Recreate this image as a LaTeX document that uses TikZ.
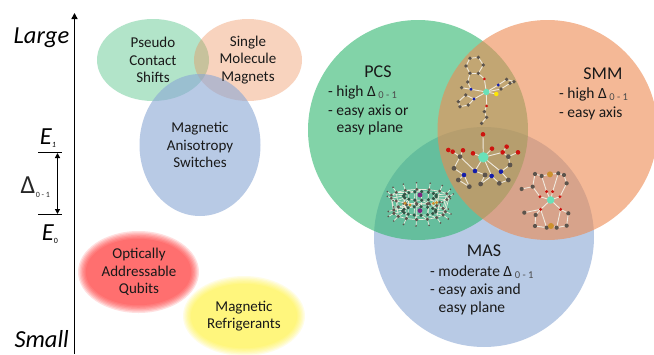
\documentclass[tikz,border=0pt]{standalone}
\usepackage{fontspec}
\setmainfont{Carlito}
\usetikzlibrary{arrows.meta}
\definecolor{gbig}{RGB}{47,182,110}
\definecolor{obig}{RGB}{237,137,80}
\definecolor{bbig}{RGB}{138,167,213}
\definecolor{bond}{RGB}{240,234,222}
\definecolor{atomc}{RGB}{92,84,76}
\definecolor{ored}{RGB}{205,20,15}
\definecolor{nblue}{RGB}{20,30,170}
\definecolor{dycol}{RGB}{105,225,185}
\definecolor{aucol}{RGB}{205,145,45}
\definecolor{cagec}{RGB}{50,85,70}
\newcommand{\dlt}{Δ\,\raisebox{-2.5pt}{\fontsize{10.5}{10.5}\selectfont\color{black!70} 0 - 1}}
\newcommand{\bonds}[1]{\foreach \p/\q in {#1} \draw[bondline] (\p) -- (\q);}
\newcommand{\atoms}[3]{\foreach \u/\v in {#3} \fill[#1] (\u,\v) circle (#2pt);}
\tikzset{
 lbl/.style={font=\fontsize{15}{17.3}\selectfont,align=center,text=black!90,inner sep=0},
 big/.style={font=\fontsize{15.5}{18}\selectfont,text=black!90,inner sep=0},
 head/.style={font=\fontsize{18}{18}\selectfont,text=black!90,inner sep=0},
 itl/.style={font=\fontsize{24.5}{26}\selectfont\itshape,text=black,inner sep=0},
 bondline/.style={draw=bond,line width=.9pt},
 axisl/.style={line width=1.7pt,black}
}
\begin{document}
\begin{tikzpicture}[x=1pt,y=-1pt]
\useasboundingbox (0,0) rectangle (654,354);
\fill[white] (0,0) rectangle (654,354);
% axis
\coordinate (axb) at (74.5,354); \coordinate (axt) at (74.5,13);
\draw[axisl,-{Triangle[length=6pt,width=6pt]}] (axb) -- (axt);
\node[itl,anchor=east] (large) at (69.5,38) {Large};
\node[itl,anchor=east] (small) at (69,339) {Small};
% levels
\coordinate (e1a) at (38,152.5); \coordinate (e1b) at (62,152.5);
\coordinate (e0a) at (38,214.5); \coordinate (e0b) at (62,214.5);
\draw[line width=1.3pt] (e1a) -- (e1b); \draw[line width=1.3pt] (e0a) -- (e0b);
\draw[line width=1.3pt,{Triangle[length=5pt,width=5pt]}-{Triangle[length=5pt,width=5pt]}] (57.5,153) -- (57.5,214);
\node[itl] (eone) at (48,138) {E\raisebox{-3pt}{\fontsize{8}{8}\selectfont 1}};
\node[itl] (ezero) at (50,234) {E\raisebox{-3pt}{\fontsize{8}{8}\selectfont\upshape 0}};
\node[inner sep=0,font=\fontsize{26}{26}\selectfont,text=black!85,anchor=west] (dl) at (20.5,187) {Δ\raisebox{-4pt}{\fontsize{8}{8}\selectfont\hspace{.5pt}0 - 1}};
% left ellipses
\fill[gbig,opacity=.37] (153,60) ellipse [x radius=56pt,y radius=41pt];
\fill[obig,opacity=.37] (248,60) ellipse [x radius=54pt,y radius=41pt];
\fill[bbig,opacity=.6] (200,145) ellipse [x radius=60.5pt,y radius=71pt];
\foreach \d in {0,1,2,3,4,5,6}{
  \fill[red!85!white,opacity=.14] (138.5,272) ellipse [x radius={60.5pt-\d*1.3pt},y radius={41pt-\d*1.3pt}];
  \fill[yellow!95!white,opacity=.1] (244,316) ellipse [x radius={61pt-\d*1.3pt},y radius={40pt-\d*1.3pt}];
}
\node[lbl] (t1) at (153,60) {Pseudo\\Contact\\Shifts};
\node[lbl] (t2) at (248,60) {Single\\Molecule\\Magnets};
\node[lbl] (t3) at (200,145) {Magnetic\\Anisotropy\\Switches};
\node[lbl] (t4) at (139,272) {Optically\\Addressable\\Qubits};
\node[lbl] (t5) at (244,316) {Magnetic\\Refrigerants};
% big circles
\fill[bbig,opacity=.6] (484,237) circle (110pt);
\fill[gbig,opacity=.6] (418,130) circle (110pt);
\fill[obig,opacity=.6] (547.5,130) circle (110pt);
% text
\node[head] (p0) at (378,72) {PCS};
\node[big,anchor=west] (p1) at (328,92) {- high \dlt};
\node[big,anchor=west] (p2) at (328,111) {- easy axis or};
\node[big,anchor=west] (p3) at (336.5,128.5) {easy plane};
\node[head] (s0) at (603,74) {SMM};
\node[big,anchor=west] (s1) at (559,94) {- high \dlt};
\node[big,anchor=west] (s2) at (559,113) {- easy axis};
\node[head] (m0) at (484,251) {MAS};
\node[big,anchor=west] (m1) at (430,272) {- moderate \dlt};
\node[big,anchor=west] (m2) at (430,290) {- easy axis and};
\node[big,anchor=west] (m3) at (438.5,308.5) {easy plane};
% molecules, in a 3x grid of the crop
\begin{scope}[xshift=370pt,yshift=-40pt,x=.3333pt,y=-.3333pt]
% molecule 1
\foreach \n/\u/\v in {a/300/55,b/325/52,c/340/75,d/325/100,e/300/100,f/288/78,g/343/117,h/293/126,i/303/148,j/275/143,k/349/156,l/385/135,m/410/118,n/432/125,o/420/130,q/312/177,r/287/165,s/265/185,t/270/200,w/295/195,x/379/162,y/350/198,z/343/215,aa/350/232,ab/335/250,ac/393/147}
  \coordinate (\n) at (\u,\v);
\bonds{a/b,b/c,c/d,d/e,e/f,f/a,d/g,g/k,e/h,h/i,i/k,i/j,k/l,l/m,m/n,n/o,o/ac,ac/k,k/q,q/r,r/s,s/t,t/w,w/q,k/x,k/y,y/z,z/aa,aa/ab}
\atoms{atomc}{1.9}{300/55,325/52,340/75,325/100,300/100,288/78,293/126,275/143,410/118,432/125,420/130,393/147,287/165,265/185,270/200,295/195,343/215,350/232,335/250}
\atoms{nblue}{1.6}{303/148,385/135,312/177}
\atoms{ored}{1.5}{343/117,350/198}
\atoms{yellow!90!orange}{2.2}{379/162}
\atoms{dycol}{3.2}{349/156}
% molecule 2
\foreach \n/\u/\v in {A/339/283,B/235/330,C/248/335,D/279/331,E/309/340,F/366/326,G/410/320,H/398/337,I/444/337,J/270/350,K/252/385,L/265/420,M/298/440,N/332/432,O/345/405,P/388/430,Q/415/420,R/420/375,S/415/350,T/282/405,U/315/393,V/365/408,W/393/395,X/340/352}
  \coordinate (\n) at (\u,\v);
\bonds{A/X,B/C,C/J,D/J,E/X,F/X,G/H,H/S,S/I,H/X,J/K,K/T,T/L,L/M,M/T,U/X,U/J,U/O,O/N,N/V,V/X,V/P,P/Q,Q/W,W/X,W/R,R/S}
\atoms{atomc}{2.4}{270/350,252/385,265/420,298/440,332/432,345/405,388/430,415/420,420/375,415/350}
\atoms{ored}{2.3}{339/283,235/330,248/335,279/331,309/340,366/326,410/320,398/337,444/337}
\atoms{nblue}{2.3}{282/405,315/393,365/408,393/395}
\atoms{dycol}{5.2}{340/352}
% molecule 3
\foreach \n/\u/\v in {a/540/403,b/515/408,c/495/402,d/488/440,e/510/470,f/455/447,g/565/400,h/582/405,i/590/430,j/570/470,k/542/480,l/512/508,m/572/508,n/463/518,o/497/525,p/495/558,q/530/563,r/543/558,s/560/563,t/590/557,u/595/520,v/530/455,w/548/455}
  \coordinate (\n) at (\u,\v);
\bonds{a/b,b/c,c/d,d/e,e/k,d/f,a/g,g/h,h/i,i/j,j/k,b/v,v/k,g/w,w/k,k/l,k/m,l/n,l/o,o/p,p/q,q/r,r/s,s/t,t/u,u/m,m/s,l/q}
\atoms{atomc}{2.1}{515/408,495/402,488/440,455/447,565/400,582/405,590/430,463/518,497/525,495/558,530/563,560/563,590/557,595/520}
\atoms{ored}{1.6}{510/470,570/470,512/508,572/508,530/455,548/455}
\atoms{aucol}{3}{540/403,543/558}
\atoms{dycol}{3.8}{542/480}
% molecule 4 (cage)
\foreach \a in {0,24,...,336}{
  \coordinate (tt\a) at ({150+88*cos(\a)},{470+22*sin(\a)});
  \coordinate (bb\a) at ({148+78*cos(\a)},{515+24*sin(\a)});
  \coordinate (tu\a) at ({150+50*cos(\a+12)},{468+13*sin(\a+12)});
  \coordinate (bu\a) at ({148+50*cos(\a+12)},{513+13*sin(\a+12)});
  \coordinate (to\a) at ({150+100*cos(\a)},{462+34*sin(\a)});
  \coordinate (bo\a) at ({148+95*cos(\a)},{522+36*sin(\a)});
}
\foreach \a [evaluate=\a as \b using {int(mod(\a+24,360))}] in {0,24,...,336}{
  \draw[bondline,line width=.7pt] (tt\a) -- (tt\b) (bb\a) -- (bb\b) (tt\a) -- (bb\a) (tu\a) -- (tu\b) (bu\a) -- (bu\b) (tt\a) -- (tu\a) (bb\a) -- (bu\a) (tu\a) -- (bu\a) (tt\a) -- (to\a) (bb\a) -- (bo\a);
}
\foreach \a in {0,24,...,336}{
  \fill[atomc] (to\a) circle (.9pt);
  \fill[atomc] (bo\a) circle (.9pt);
  \fill[atomc] (tt\a) circle (1.6pt);
  \fill[atomc] (bb\a) circle (1.8pt);
  \fill[cagec] (tu\a) circle (1.8pt);
  \fill[cagec] (bu\a) circle (1.8pt);
}
\atoms{violet!70!gray}{2.4}{150/465,150/512}
\atoms{aucol}{1.6}{105/490,190/490,120/495,200/488}
\end{scope}
\end{tikzpicture}
\end{document}
